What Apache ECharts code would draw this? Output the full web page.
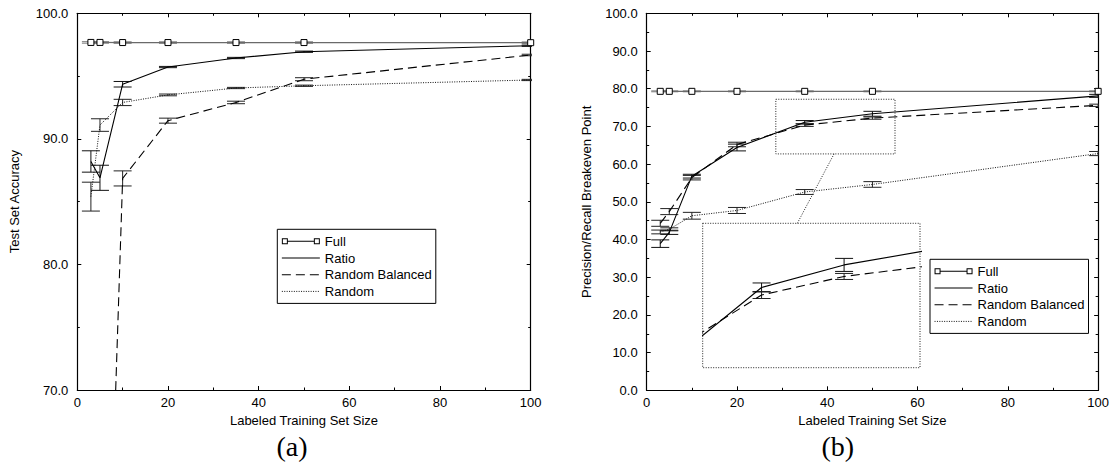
<!DOCTYPE html>
<html>
<head>
<meta charset="utf-8">
<script src="https://cdn.jsdelivr.net/npm/echarts@6/dist/echarts.min.js"></script>
<style>
  html, body { margin: 0; padding: 0; background: #fff; }
  #chart { width: 1112px; height: 464px; }
</style>
</head>
<body>
<div id="chart"></div>
<script>
// ---------- data ----------
const xSizes = [3, 5, 10, 20, 35, 50, 100];

// (a) Test Set Accuracy
const accFull        = [97.68, 97.68, 97.67, 97.67, 97.67, 97.67, 97.66];
const accFullErr     = [0.06, 0.06, 0.06, 0.06, 0.06, 0.06, 0.06];
const accRatio       = [88.2, 86.9, 94.35, 95.72, 96.44, 96.94, 97.42];
const accRatioErr    = [0.85, 1.0, 0.22, 0.05, 0.05, 0.05, 0.05];
const accBalanced    = [30.0, 32.0, 86.85, 91.45, 92.9, 94.75, 96.68];
const accBalancedErr = [1.0, 1.0, 0.6, 0.2, 0.1, 0.12, 0.06];
const accRandom      = [85.4, 91.1, 92.9, 93.5, 94.05, 94.23, 94.69];
const accRandomErr   = [1.15, 0.5, 0.25, 0.07, 0.05, 0.05, 0.05];

// (b) Precision/Recall Breakeven Point
const prFull        = [79.3, 79.3, 79.3, 79.3, 79.3, 79.3, 79.3];
const prFullErr     = [0.12, 0.12, 0.12, 0.12, 0.12, 0.12, 0.12];
const prRatio       = [38.9, 41.9, 56.8, 64.4, 71.1, 73.35, 78.1];
const prRatioErr    = [1.0, 0.55, 0.5, 0.9, 0.45, 0.65, 0.4];
const prBalanced    = [44.3, 47.4, 56.4, 65.2, 70.35, 72.2, 75.6];
const prBalancedErr = [0.8, 0.8, 0.6, 0.6, 0.35, 0.3, 0.3];
const prRandom      = [42.0, 42.7, 46.3, 47.7, 52.6, 54.6, 62.8];
const prRandomErr   = [0.5, 0.4, 0.9, 0.8, 0.65, 0.75, 0.55];

// zoom box (in (b) data units) and inset axis ranges
const zoomBox = [28.6, 55.0, 62.7, 77.2];   // xmin, xmax, ymin, ymax
const insetX = [24.3, 63.8];
const insetY = [63.1, 77.5];
const connectorX = 41.5;

const seriesNames = ['Full', 'Ratio', 'Random Balanced', 'Random'];
const xTicks = { min: 0, max: 100, interval: 20 };

// ---------- chart ----------
const FONT = '"Liberation Sans", Arial, Helvetica, sans-serif';
const chart = echarts.init(document.getElementById('chart'), null, { renderer: 'svg' });

const pairs = (vals) => xSizes.map((x, i) => [x, vals[i]]);
const errPairs = (vals, errs) => xSizes.map((x, i) => [x, vals[i] - errs[i], vals[i] + errs[i]]);

function errRender(color) {
  return function (params, api) {
    const x = api.value(0), lo = api.value(1), hi = api.value(2);
    const p1 = api.coord([x, lo]);
    const p2 = api.coord([x, hi]);
    const w = 9;
    const st = { stroke: color, lineWidth: 1, fill: null };
    return {
      type: 'group',
      children: [
        { type: 'line', shape: { x1: p1[0], y1: p1[1], x2: p2[0], y2: p2[1] }, style: st },
        { type: 'line', shape: { x1: p1[0] - w, y1: p1[1], x2: p1[0] + w, y2: p1[1] }, style: st },
        { type: 'line', shape: { x1: p2[0] - w, y1: p2[1], x2: p2[0] + w, y2: p2[1] }, style: st }
      ]
    };
  };
}

const styles = {
  'Full': { color: '#6a6a6a', width: 1.3, type: 'solid' },
  'Ratio': { color: '#000', width: 1.1, type: 'solid' },
  'Random Balanced': { color: '#000', width: 1.1, type: [9, 5] },
  'Random': { color: '#111', width: 1, type: [1, 1.4] }
};
const errColors = { 'Full': '#7a7a7a', 'Ratio': '#111', 'Random Balanced': '#222', 'Random': '#222' };

function lineSeries(name, vals, xi, yi) {
  const s = {
    name, type: 'line', xAxisIndex: xi, yAxisIndex: yi,
    data: pairs(vals), clip: true, z: 3,
    lineStyle: styles[name], silent: true
  };
  if (name === 'Full') {
    s.symbol = 'rect'; s.symbolSize = 6; s.showSymbol = true;
    s.itemStyle = { color: '#fff', borderColor: '#000', borderWidth: 1 };
    s.z = 4;
  } else {
    s.symbol = 'none'; s.showSymbol = false;
    s.itemStyle = { color: styles[name].color };
  }
  return s;
}
function errSeries(name, vals, errs, xi, yi) {
  return {
    name: name + ' err', type: 'custom', xAxisIndex: xi, yAxisIndex: yi,
    data: errPairs(vals, errs), renderItem: errRender(errColors[name]),
    encode: { x: 0, y: [1, 2] }, clip: true, z: 2, silent: true
  };
}

function mkX(gridIndex, position, labels, name) {
  return {
    type: 'value', gridIndex, position,
    min: xTicks.min, max: xTicks.max, interval: xTicks.interval,
    axisLine: { show: true, onZero: false, lineStyle: { color: '#000', width: 1.2 } },
    axisTick: { show: true, inside: true, length: 4, lineStyle: { color: '#000' } },
    minorTick: { show: true, splitNumber: 2, length: 2.5, lineStyle: { color: '#000' } },
    splitLine: { show: false }, minorSplitLine: { show: false },
    axisLabel: { show: labels, color: '#000', fontSize: 13, fontFamily: FONT, margin: 6 },
    name: name || '', nameLocation: 'middle', nameGap: 22,
    nameTextStyle: { color: '#000', fontSize: 13, fontFamily: FONT }
  };
}
function mkY(gridIndex, position, labels, min, max, name, gap) {
  return {
    type: 'value', gridIndex, position, min, max, interval: 10,
    axisLine: { show: true, onZero: false, lineStyle: { color: '#000', width: 1.2 } },
    axisTick: { show: true, inside: true, length: 4, lineStyle: { color: '#000' } },
    minorTick: { show: true, splitNumber: 2, length: 2.5, lineStyle: { color: '#000' } },
    splitLine: { show: false }, minorSplitLine: { show: false },
    axisLabel: { show: labels, color: '#000', fontSize: 13, fontFamily: FONT, margin: 9,
                 formatter: (v) => v.toFixed(1) },
    name: name || '', nameLocation: 'middle', nameGap: gap || 50,
    nameTextStyle: { color: '#000', fontSize: 13, fontFamily: FONT }
  };
}

const fullIcon = 'path://M0,0H6V6H0Z M1,1V5H5V1Z M6,2.5H32V3.5H6Z M32,0H38V6H32Z M33,1V5H37V1Z';
const noDot = { color: 'rgba(0,0,0,0)', borderColor: 'rgba(0,0,0,0)', borderWidth: 0 };
function mkLegend(left, top) {
  return {
    orient: 'vertical', left, top, padding: [5, 4, 5, 4], itemGap: 2.7,
    itemWidth: 38, itemHeight: 6, borderColor: '#000', borderWidth: 1,
    backgroundColor: '#fff', selectedMode: false,
    textStyle: { fontSize: 13, lineHeight: 14, color: '#000', fontFamily: FONT },
    data: [
      { name: 'Full', icon: fullIcon, itemStyle: { color: '#000', borderWidth: 0 } },
      { name: 'Ratio', itemStyle: noDot, lineStyle: { width: 1.1 } },
      { name: 'Random Balanced', itemStyle: noDot, lineStyle: { width: 1.1 } },
      { name: 'Random', itemStyle: noDot, lineStyle: { width: 1 } }
    ]
  };
}

const accVals = { 'Full': [accFull, accFullErr], 'Ratio': [accRatio, accRatioErr],
                  'Random Balanced': [accBalanced, accBalancedErr], 'Random': [accRandom, accRandomErr] };
const prVals = { 'Full': [prFull, prFullErr], 'Ratio': [prRatio, prRatioErr],
                 'Random Balanced': [prBalanced, prBalancedErr], 'Random': [prRandom, prRandomErr] };

const series = [];
seriesNames.forEach((n) => {
  series.push(errSeries(n, accVals[n][0], accVals[n][1], 0, 0));
  series.push(lineSeries(n, accVals[n][0], 0, 0));
});
seriesNames.forEach((n) => {
  series.push(errSeries(n, prVals[n][0], prVals[n][1], 2, 2));
  series.push(lineSeries(n, prVals[n][0], 2, 2));
});
['Ratio', 'Random Balanced'].forEach((n) => {
  series.push(errSeries(n, prVals[n][0], prVals[n][1], 4, 4));
  series.push(lineSeries(n, prVals[n][0], 4, 4));
});

const option = {
  animation: false,
  backgroundColor: '#fff',
  grid: [
    { left: 77.3, right: 581.3, top: 13.3, bottom: 74 },
    { left: 646.7, right: 10.3, top: 13.3, bottom: 73.7 },
    { left: 702.7, top: 223.3, width: 217.3, height: 144.4 }
  ],
  xAxis: [
    mkX(0, 'bottom', true, 'Labeled Training Set Size'),
    mkX(0, 'top', false),
    mkX(1, 'bottom', true, 'Labeled Training Set Size'),
    mkX(1, 'top', false),
    { type: 'value', gridIndex: 2, min: insetX[0], max: insetX[1], show: false }
  ],
  yAxis: [
    mkY(0, 'left', true, 70, 100, 'Test Set Accuracy', 56),
    mkY(0, 'right', false, 70, 100),
    mkY(1, 'left', true, 0, 100, 'Precision/Recall Breakeven Point', 54),
    mkY(1, 'right', false, 0, 100),
    { type: 'value', gridIndex: 2, min: insetY[0], max: insetY[1], show: false }
  ],
  legend: [mkLegend(277.3, 229.3), mkLegend(930, 259.3)],
  series
};
chart.setOption(option);

// annotations: zoom box, inset frame, connector, panel captions
const zA = chart.convertToPixel({ xAxisIndex: 2, yAxisIndex: 2 }, [zoomBox[0], zoomBox[3]]);
const zB = chart.convertToPixel({ xAxisIndex: 2, yAxisIndex: 2 }, [zoomBox[1], zoomBox[2]]);
const iA = chart.convertToPixel({ xAxisIndex: 4, yAxisIndex: 4 }, [insetX[0], insetY[1]]);
const iB = chart.convertToPixel({ xAxisIndex: 4, yAxisIndex: 4 }, [insetX[1], insetY[0]]);
const c1 = chart.convertToPixel({ xAxisIndex: 2, yAxisIndex: 2 }, [connectorX, zoomBox[2]]);
const c2 = chart.convertToPixel({ xAxisIndex: 4, yAxisIndex: 4 }, [connectorX, insetY[1]]);
const dotted = { stroke: '#222', lineWidth: 1, lineDash: [1, 1.5], fill: null };
const capFont = '28px "Liberation Serif", "DejaVu Serif", serif';
const gA = chart.convertToPixel({ xAxisIndex: 0, yAxisIndex: 0 }, [50, 70]);
const gB = chart.convertToPixel({ xAxisIndex: 2, yAxisIndex: 2 }, [45, 0]);
chart.setOption({
  graphic: [
    { type: 'rect', shape: { x: zA[0], y: zA[1], width: zB[0] - zA[0], height: zB[1] - zA[1] }, style: dotted, z: 10, silent: true },
    { type: 'rect', shape: { x: iA[0], y: iA[1], width: iB[0] - iA[0], height: iB[1] - iA[1] }, style: dotted, z: 10, silent: true },
    { type: 'line', shape: { x1: c1[0], y1: c1[1], x2: c2[0], y2: c2[1] }, style: dotted, z: 10, silent: true },
    { type: 'text', x: gA[0] - 12, y: 446, style: { text: '(a)', font: capFont, fill: '#000', textAlign: 'center', textVerticalAlign: 'middle' } },
    { type: 'text', x: gB[0] - 12, y: 446, style: { text: '(b)', font: capFont, fill: '#000', textAlign: 'center', textVerticalAlign: 'middle' } }
  ]
});
</script>
</body>
</html>
